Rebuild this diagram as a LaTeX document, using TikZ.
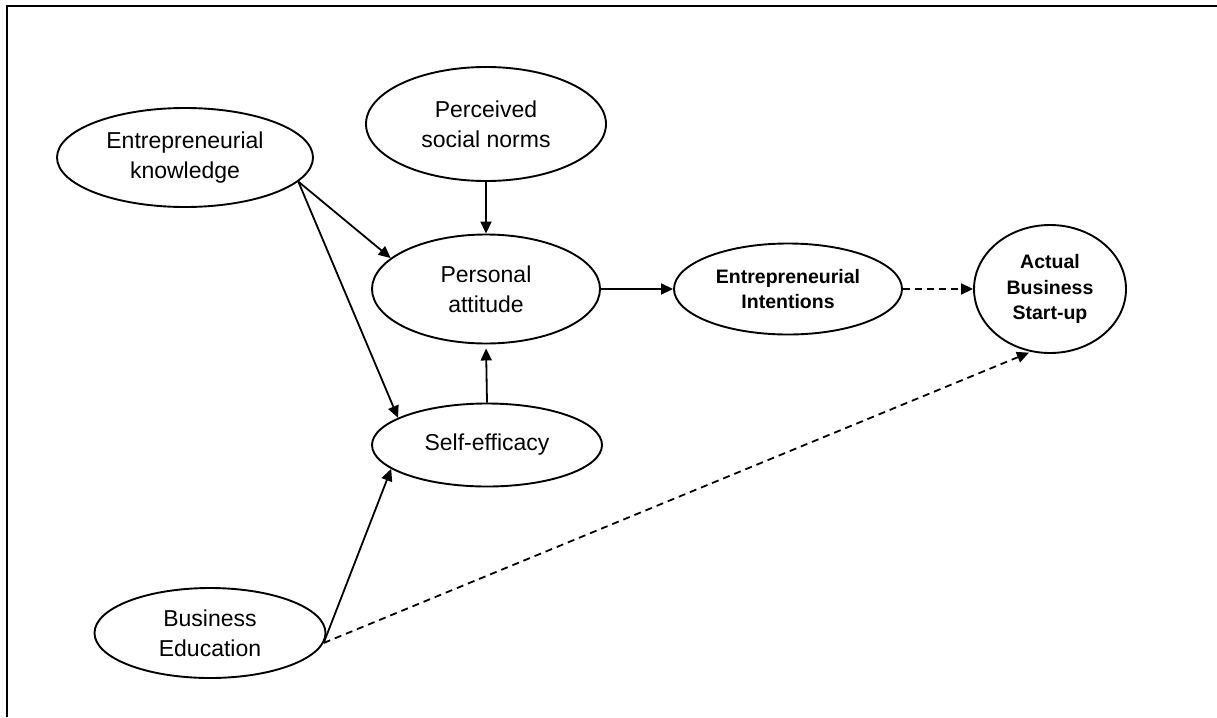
\documentclass[tikz,border=0pt]{standalone}
\usepackage{fontspec}
\setmainfont{Liberation Sans}
\usetikzlibrary{arrows.meta,shapes.geometric}
\begin{document}
\begin{tikzpicture}[x=1pt,y=-1pt,
  construct/.style={draw=black, line width=1.9pt, ellipse, inner sep=0pt, align=center,
    font=\fontsize{23}{30}\selectfont},
  outcome/.style={construct, font=\fontsize{19.5}{25.5}\selectfont\bfseries},
  link/.style={line width=1.8pt, -{Triangle[length=12pt,width=11pt]}},
  weaklink/.style={link, dash pattern=on 7pt off 5pt}]
  \useasboundingbox (0,0) rectangle (1217,717);
  % frame: top and left rules only
  \draw[line width=2pt] (7,717) -- (7,6) -- (1217,6);

  % constructs
  \node[construct, minimum width=256pt, minimum height=99pt] (ek) at (185,157.5) {Entrepreneurial\\knowledge};
  \node[construct, minimum width=240pt, minimum height=114pt] (psn) at (486,124) {Perceived\\social norms};
  \node[construct, minimum width=228pt, minimum height=109pt] (pa) at (486,289) {Personal\\attitude};
  \node[construct, minimum width=230pt, minimum height=83pt] (se) at (487,445) {Self-efficacy};
  \node[outcome, minimum width=228pt, minimum height=91pt] (ei) at (788,289) {Entrepreneurial\\Intentions};
  \node[outcome, minimum width=152pt, minimum height=128pt] (abs) at (1050,289) {Actual\\Business\\Start-up};
  \node[construct, minimum width=231pt, minimum height=90pt] (be) at (210,633) {Business\\Education};

  % paths
  \draw[link] (psn.south) -- (pa.north);
  \draw[link, shorten >=4pt] (se.north) -- (pa.south);
  \draw[link] (ek.-12) -- (pa.162);
  \draw[link] (ek.-12) -- (se.163);
  \draw[link] (be.-5) -- (se.194);
  \draw[link] (pa.east) -- (ei.west);
  \draw[weaklink] (ei.east) -- (abs.west);
  \draw[weaklink, shorten >=2pt] (be.-5) -- (abs.253);
\end{tikzpicture}
\end{document}
